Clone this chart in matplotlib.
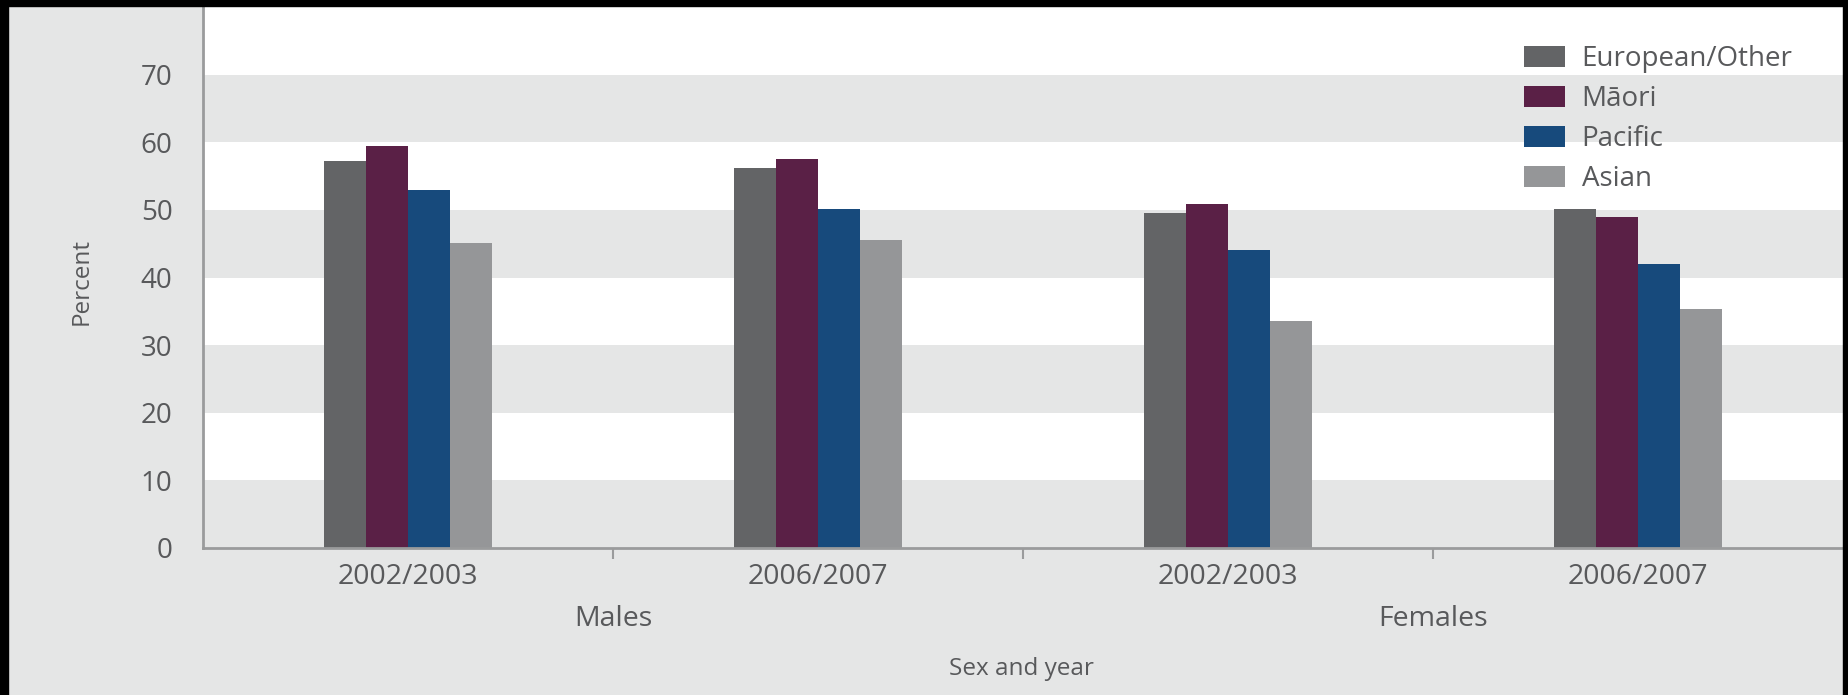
import numpy as np
import matplotlib
matplotlib.use("Agg")
import matplotlib.pyplot as plt
from matplotlib.patches import Rectangle, Patch

# data
years = ["2002/2003", "2006/2007", "2002/2003", "2006/2007"]
sexes = ["Males", "Females"]
groups = ["European/Other", "Māori", "Pacific", "Asian"]
european = [57.2, 56.2, 49.6, 50.1]
maori = [59.5, 57.5, 50.9, 49.0]
pacific = [52.9, 50.1, 44.0, 42.0]
asian = [45.1, 45.5, 33.6, 35.4]

colors = ["#636466", "#5a2046", "#174a7c", "#959698"]
bg = "#e5e6e6"
txt = "#58595b"

plt.rcParams["font.family"] = ["Open Sans", "DejaVu Sans"]

fig = plt.figure(figsize=(18.49, 6.95), dpi=100, facecolor=bg)
W, H = 1849, 695
ax = fig.add_axes([203 / W, 1 - 548 / H, (1843 - 203) / W, (548 - 7) / H])
ax.set_facecolor("white")

# alternating horizontal bands
for lo in range(0, 80, 20):
    ax.axhspan(lo, lo + 10, color=bg, lw=0, zorder=0)

x = np.arange(len(years))
bw = 0.1025
series = [european, maori, pacific, asian]
for i, (vals, c) in enumerate(zip(series, colors)):
    ax.bar(x + (i - 1.5) * bw, vals, width=bw, color=c, lw=0, zorder=2)

ax.set_xlim(-0.5, 3.5)
ax.set_ylim(0, 80)
ax.set_yticks(range(0, 80, 10))
ax.tick_params(axis="y", length=0, pad=22, labelsize=20, labelcolor=txt)
ax.set_xticks(x)
ax.set_xticklabels(years)
ax.tick_params(axis="x", length=0, pad=11, labelsize=20.5, labelcolor=txt)
ax.set_xticks([0.5, 1.5, 2.5], minor=True)
ax.tick_params(axis="x", which="minor", length=8, width=1.5, color="#9a9b9c")

for s in ["top", "right"]:
    ax.spines[s].set_visible(False)
for s in ["left", "bottom"]:
    ax.spines[s].set_color("#9a9b9c")
    ax.spines[s].set_linewidth(2)

# sex labels under the year labels
for j, sx in enumerate(sexes):
    ax.text(0.5 + 2 * j, -10.5, sx, ha="center", va="center", fontsize=20.5,
            color=txt, transform=ax.transData, clip_on=False)

fig.text(1021 / W, 1 - 669 / H, "Sex and year", ha="center", va="center",
         fontsize=17.5, color=txt)
fig.text(82 / W, 1 - 281 / H, "Percent", ha="center", va="center",
         rotation=90, fontsize=17.5, color=txt)

handles = [Patch(facecolor=c, edgecolor="none") for c in colors]
fig.legend(handles, groups, loc="upper left",
           bbox_to_anchor=(1513 / W, 1 - 34 / H), frameon=False,
           fontsize=20, labelcolor=txt, handlelength=1.47, handleheight=0.78,
           handletextpad=0.6, labelspacing=0.43, borderaxespad=0)

# black frame edges of the original image
for (x0, y0, w, h) in [(0, 0, W, 6), (0, 0, 8, H), (1843, 0, 6, H)]:
    fig.patches.append(Rectangle((x0 / W, 1 - (y0 + h) / H), w / W, h / H,
                                 transform=fig.transFigure, color="black",
                                 zorder=10))

fig.savefig("out.png", dpi=100, facecolor=bg)
